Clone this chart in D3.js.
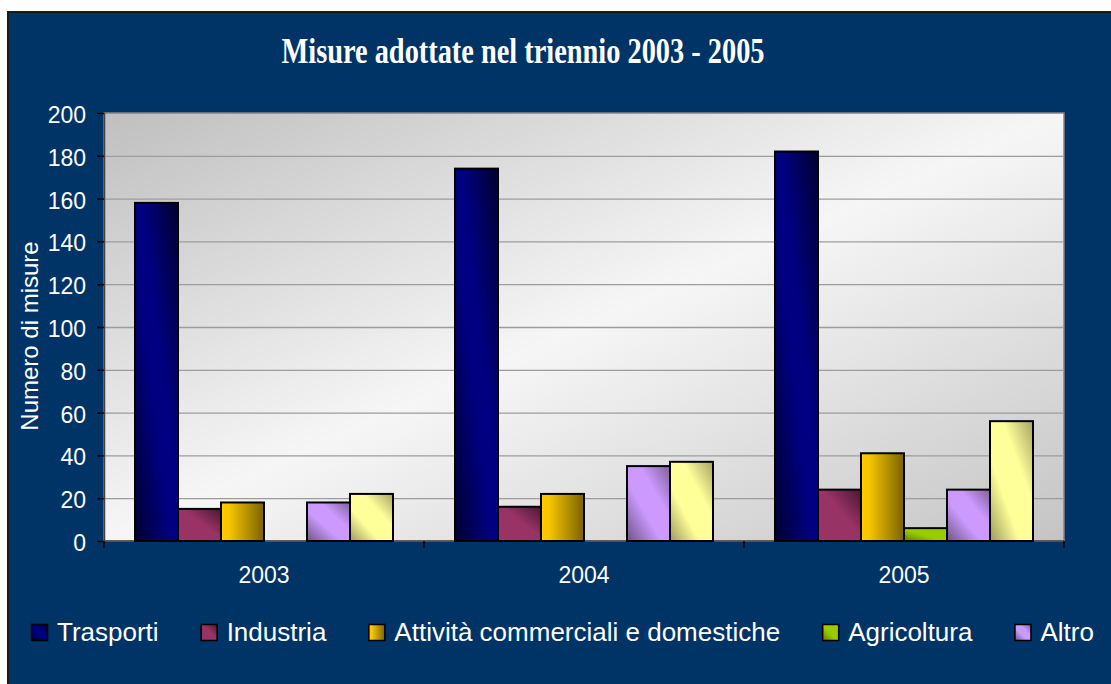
<!DOCTYPE html>
<html>
<head>
<meta charset="utf-8">
<script src="https://cdn.jsdelivr.net/npm/d3@7"></script>
<style>
  body { margin: 0; background: #fff; }
  svg { display: block; }
  text { font-family: "Liberation Sans", Arial, sans-serif; fill: #fff; }
</style>
</head>
<body>
<div id="chart"></div>
<script>
// data
var years = ['2003', '2004', '2005'];
var series = ['Trasporti', 'Industria', 'Attività commerciali e domestiche', 'Agricoltura', 'Altro', 'Serie 6'];
var trasporti = [158, 174, 182];
var industria = [15, 16, 24];
var attivita = [18, 22, 41];
var agricoltura = [0, 0, 6];
var altro = [18, 35, 24];
var serie6 = [22, 37, 56];
var yTicks = [0, 20, 40, 60, 80, 100, 120, 140, 160, 180, 200];
// only the first five legend entries fit in the picture
var legendShown = 5;

var values = [trasporti, industria, attivita, agricoltura, altro, serie6];
var data = years.map(function(yr, i) {
  return { year: yr, bars: series.map(function(s, j) { return { key: s, idx: j, value: values[j][i] }; }) };
});

var width = 1111;
var height = 684;
var plot = { left: 104, top: 113, right: 1064, bottom: 541 };

var svg = d3.select('#chart')
  .append('svg')
  .attr('width', width)
  .attr('height', height);

var defs = svg.append('defs');

function grad(id, x1, y1, x2, y2, stops) {
  var g = defs.append('linearGradient')
    .attr('id', id)
    .attr('x1', x1).attr('y1', y1)
    .attr('x2', x2).attr('y2', y2);
  g.selectAll('stop')
    .data(stops)
    .enter().append('stop')
    .attr('offset', function(d) { return d[0]; })
    .attr('stop-color', function(d) { return d[1]; });
}

// plot area background
grad('bg', 0, 0, 1, 1, [['0%', '#bfbfbf'], ['50%', '#f6f6f6'], ['100%', '#c4c4c4']]);

// bar fills, one per series
grad('g0', 0, 1, 1, 0, [['0%', '#000030'], ['42%', '#000080'], ['58%', '#000080'], ['100%', '#000030']]);
grad('g1', 0, 1, 1, 0, [['0%', '#993366'], ['55%', '#993366'], ['100%', '#4a1830']]);
grad('g2', 0, 0, 1, 0, [['0%', '#ffcc00'], ['20%', '#f6c400'], ['100%', '#7a6200']]);
grad('g3', 0, 1, 1, 0, [['0%', '#5e7d00'], ['45%', '#99cc00'], ['100%', '#99cc00']]);
grad('g4', 0, 1, 1, 0, [['0%', '#6a5485'], ['40%', '#cc99ff'], ['65%', '#cc99ff'], ['100%', '#7d6199']]);
grad('g5', 0, 1, 1, 0, [['0%', '#9a9a5c'], ['35%', '#ffff99'], ['65%', '#ffff99'], ['100%', '#a3a366']]);

// navy frame
svg.append('rect')
  .attr('x', 8)
  .attr('y', 12)
  .attr('width', 1300)
  .attr('height', 900)
  .attr('fill', '#003366')
  .attr('stroke', '#1a1a1a')
  .attr('stroke-width', 2);

// Title
svg.append('text')
  .attr('x', 523)
  .attr('y', 63)
  .attr('text-anchor', 'middle')
  .attr('textLength', 483)
  .attr('lengthAdjust', 'spacingAndGlyphs')
  .style('font-family', '"Liberation Serif", "Times New Roman", serif')
  .style('font-weight', 'bold')
  .style('font-size', '35px')
  .text('Misure adottate nel triennio 2003 - 2005');

var x0 = d3.scaleBand()
  .domain(years)
  .range([plot.left, plot.right])
  .paddingInner(62 / 320)
  .paddingOuter(31 / 320);

var x1 = d3.scaleBand()
  .domain(series)
  .range([0, x0.bandwidth()]);

var y = d3.scaleLinear()
  .domain([0, 200])
  .range([plot.bottom, plot.top]);

// plot background
svg.append('rect')
  .attr('x', plot.left)
  .attr('y', plot.top)
  .attr('width', plot.right - plot.left)
  .attr('height', plot.bottom - plot.top)
  .attr('fill', 'url(#bg)')
  .attr('stroke', '#858585')
  .attr('stroke-width', 1.5);

// gridlines
svg.append('g')
  .attr('class', 'grid')
  .attr('transform', 'translate(' + plot.left + ',0)')
  .call(d3.axisLeft(y)
    .tickValues(yTicks.slice(1, -1))
    .tickSize(-(plot.right - plot.left))
    .tickFormat('')
  )
  .call(function(g) {
    g.select('.domain').remove();
    g.selectAll('line').attr('stroke', '#9c9c9c').attr('stroke-width', 1.3);
  });

// y axis
svg.append('g')
  .attr('class', 'y axis')
  .attr('transform', 'translate(' + plot.left + ',0)')
  .call(d3.axisLeft(y).tickValues(yTicks).tickSize(7).tickPadding(11))
  .call(function(g) {
    g.select('.domain').attr('stroke', '#404040').attr('stroke-width', 1.5);
    g.selectAll('line').attr('stroke', '#000').attr('stroke-width', 1.5);
    g.selectAll('text')
      .attr('dy', '0.41em')
      .style('font-family', '"Liberation Sans", Arial, sans-serif')
      .style('font-size', '23px')
      .attr('fill', '#fff');
  });

// y label
svg.append('text')
  .attr('transform', 'translate(38,336) rotate(-90)')
  .attr('text-anchor', 'middle')
  .style('font-size', '24px')
  .text('Numero di misure');

// x axis baseline + category ticks
svg.append('line')
  .attr('x1', plot.left).attr('x2', plot.right)
  .attr('y1', plot.bottom).attr('y2', plot.bottom)
  .attr('stroke', '#4a4a4a')
  .attr('stroke-width', 1.5);

var bounds = d3.range(years.length + 1).map(function(i) { return plot.left + i * x0.step(); });
svg.selectAll('.xtick')
  .data(bounds)
  .enter().append('line')
  .attr('class', 'xtick')
  .attr('x1', function(d) { return d; })
  .attr('x2', function(d) { return d; })
  .attr('y1', plot.bottom)
  .attr('y2', plot.bottom + 7)
  .attr('stroke', '#000')
  .attr('stroke-width', 1.5);

svg.selectAll('.xlabel')
  .data(years)
  .enter().append('text')
  .attr('class', 'xlabel')
  .attr('x', function(d) { return x0(d) + x0.bandwidth() / 2; })
  .attr('y', 583)
  .attr('text-anchor', 'middle')
  .style('font-size', '23px')
  .text(function(d) { return d; });

// bars
var groups = svg.selectAll('.group')
  .data(data)
  .enter().append('g')
  .attr('class', 'group')
  .attr('transform', function(d) { return 'translate(' + x0(d.year) + ',0)'; });

groups.selectAll('rect')
  .data(function(d) { return d.bars.filter(function(b) { return b.value > 0; }); })
  .enter().append('rect')
  .attr('x', function(d) { return x1(d.key); })
  .attr('y', function(d) { return y(d.value); })
  .attr('width', x1.bandwidth())
  .attr('height', function(d) { return plot.bottom - y(d.value); })
  .attr('fill', function(d) { return 'url(#g' + d.idx + ')'; })
  .attr('stroke', '#000')
  .attr('stroke-width', 2);

// legend
var legend = svg.append('g').attr('class', 'legend');
var lx = 31;
series.slice(0, legendShown).forEach(function(s, i) {
  var item = legend.append('g').attr('transform', 'translate(' + lx + ',0)');
  item.append('rect')
    .attr('x', 0.5)
    .attr('y', 624.5)
    .attr('width', 16)
    .attr('height', 16)
    .attr('fill', 'url(#g' + i + ')')
    .attr('stroke', '#000')
    .attr('stroke-width', 1.5);
  var t = item.append('text')
    .attr('x', 26)
    .attr('y', 641)
    .style('font-size', '26px')
    .text(s);
  lx += 26 + t.node().getComputedTextLength() + 42;
});
</script>
</body>
</html>
